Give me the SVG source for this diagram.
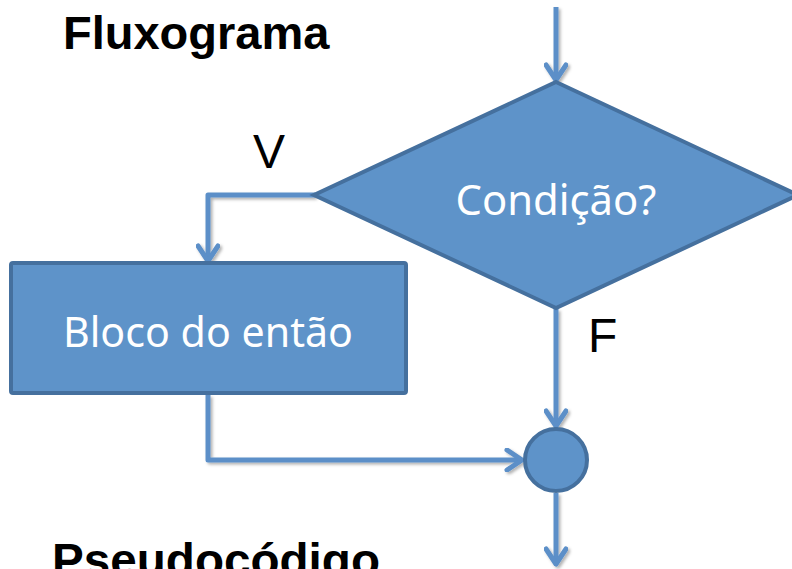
<svg xmlns="http://www.w3.org/2000/svg" width="792" height="569" viewBox="0 0 792 569">
<defs>
  <filter id="sh" x="-20%" y="-20%" width="140%" height="140%">
    <feDropShadow dx="2" dy="2" stdDeviation="1.5" flood-color="#000" flood-opacity="0.3"/>
  </filter>
  <marker id="arr" viewBox="0 0 24 24" refX="20" refY="12" markerWidth="24" markerHeight="24" markerUnits="userSpaceOnUse" orient="auto">
    <path d="M5,2 L20,12 L5,22" fill="none" stroke="#5b8fc8" stroke-width="5" stroke-linecap="round" stroke-linejoin="round"/>
  </marker>
</defs>
<style>
  .shape { fill: #5e93c9; stroke: #45709e; stroke-width: 4; }
  .conn { fill: none; stroke: #5b8fc8; stroke-width: 5; stroke-linejoin: round; marker-end: url(#arr); }
  .title { font-family: "Liberation Sans", Arial, sans-serif; font-weight: bold; font-size: 47px; fill: #000; }
  .lbl { font-family: "Liberation Sans", Arial, sans-serif; font-size: 48px; fill: #000; }
  .ntext { font-family: "Noto Sans", sans-serif; font-size: 42px; fill: #fff; text-anchor: middle; }
</style>
<rect width="792" height="569" fill="#fff"/>
<text class="title" x="63" y="49">Fluxograma</text>
<text class="title" x="52" y="576" textLength="328" lengthAdjust="spacingAndGlyphs">Pseudocódigo</text>
<g id="connectors" filter="url(#sh)">
  <path class="conn" d="M556,7 L556,80"/>
  <path class="conn" d="M315,195 L208,195 L208,261"/>
  <path class="conn" d="M556,309 L556,426"/>
  <path class="conn" d="M208,395 L208,460 L522,460"/>
  <path class="conn" d="M556,493 L556,564"/>
</g>
<g id="decision">
  <polygon class="shape" points="556,82 798,195 556,308 314,195"/>
  <text class="ntext" x="556" y="215" textLength="201" lengthAdjust="spacingAndGlyphs">Condição?</text>
</g>
<g id="then-block">
  <rect class="shape" x="11" y="263" width="395" height="130" rx="2"/>
  <text class="ntext" x="208" y="347" textLength="290" lengthAdjust="spacingAndGlyphs">Bloco do então</text>
</g>
<g id="merge">
  <circle class="shape" cx="556" cy="460" r="31"/>
</g>
<g id="labels">
  <text class="lbl" x="253" y="168">V</text>
  <text class="lbl" x="588" y="352">F</text>
</g>
</svg>
